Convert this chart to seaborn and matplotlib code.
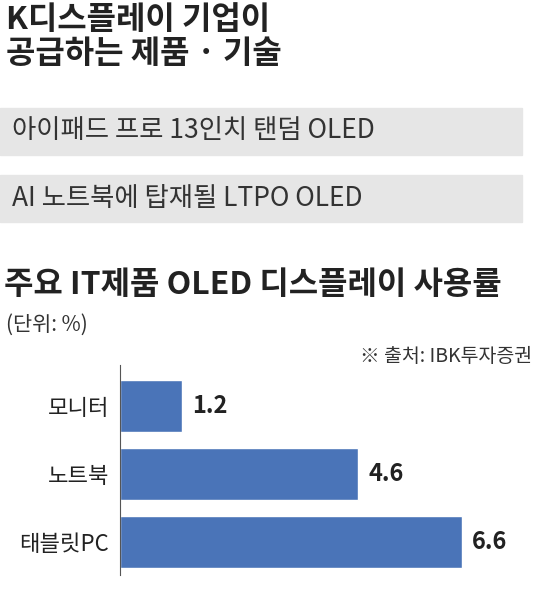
import seaborn as sns
import pandas as pd
from matplotlib import pyplot as plt
from matplotlib.patches import Rectangle

categories = ['모니터', '노트북', '태블릿PC']
usage = [1.2, 4.6, 6.6]
items = ['아이패드 프로 13인치 탠덤 OLED', 'AI 노트북에 탑재될 LTPO OLED']

sns.set_style('white')
plt.rcParams['font.family'] = ['Noto Sans CJK KR', 'DejaVu Sans']

W, H = 540, 589
fig = plt.figure(figsize=(W / 100, H / 100), dpi=100)

def fy(px):
    return 1 - px / H

fig.text(6 / W, fy(4), 'K디스플레이 기업이\n공급하는 제품 · 기술', fontsize=23,
         fontweight='bold', va='top', ha='left', linespacing=1.1, color='#222222')

for i, txt in enumerate(items):
    top = 108 + i * 67
    fig.patches.append(Rectangle((0, fy(top + 47)), 522 / W, 47 / H,
                                 transform=fig.transFigure, color='#e6e6e6', zorder=0))
    fig.text(12 / W, fy(top + 23), txt, fontsize=19, va='center', ha='left', color='#333333')

fig.text(4 / W, fy(285), '주요 IT제품 OLED 디스플레이 사용률', fontsize=23,
         fontweight='bold', va='center', ha='left', color='#222222')
fig.text(6 / W, fy(325), '(단위: %)', fontsize=15, va='center', ha='left', color='#333333')
fig.text(532 / W, fy(357), '※ 출처: IBK투자증권', fontsize=14, va='center', ha='right', color='#333333')

ax = fig.add_axes([120 / W, 1 - 575 / H, 414 / W, 210 / H])
df = pd.DataFrame({'cat': categories, 'val': usage})
sns.barplot(data=df, x='val', y='cat', color='#4a74b8', saturation=1, width=0.76, ax=ax)
ax.set_xlim(0, 8)
ax.set_ylim(2 + 33 / 68, -0.6)
for i, v in enumerate(usage):
    ax.text(v + 0.2, i, f'{v}', va='center', ha='left', fontsize=17, fontweight='bold', color='#222222')
ax.set_xlabel('')
ax.set_ylabel('')
ax.set_xticks([])
ax.tick_params(axis='y', length=0, labelsize=16, pad=8, colors='#222222')
sns.despine(ax=ax, top=True, right=True, bottom=True)
ax.spines['left'].set_color('#555555')

fig.savefig('out.png', dpi=100)
